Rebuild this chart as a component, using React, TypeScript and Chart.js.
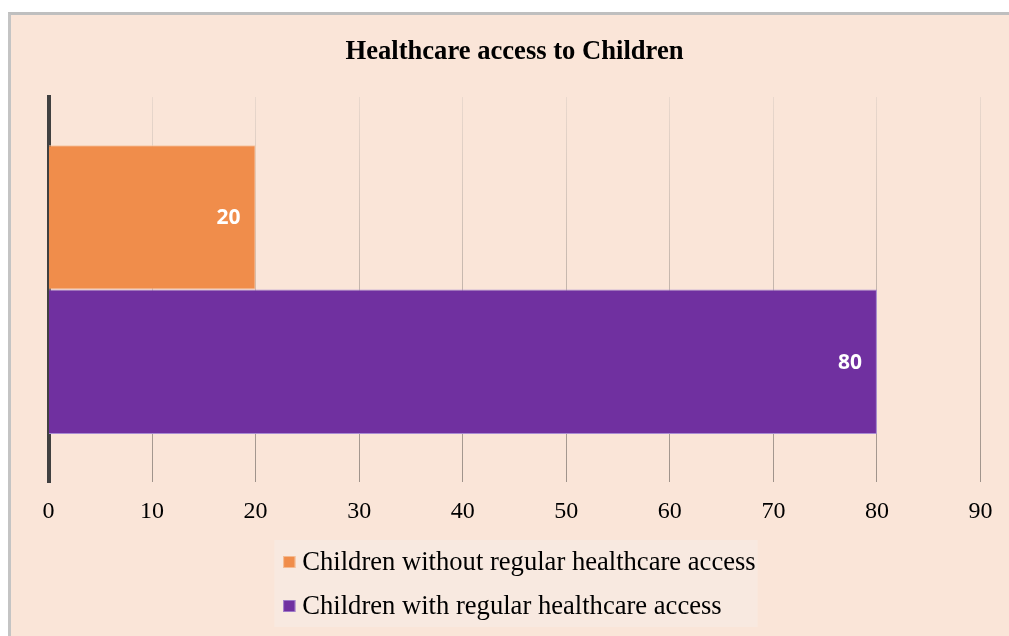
import React, { useEffect, useRef } from "react";
import { Chart, registerables } from "chart.js";

Chart.register(...registerables);

const categories: string[] = [""];
const seriesLabels: string[] = [
  "Children without regular healthcare access",
  "Children with regular healthcare access",
];
const withoutAccess: number[] = [20];
const withAccess: number[] = [80];
const xTicksMax = 90;
const xTickStep = 10;

const SERIF = '"Times New Roman", "Liberation Serif", serif';
const SANS = '"Open Sans", "Noto Sans", sans-serif';

const valueLabelPlugin = {
  id: "valueLabels",
  afterDatasetsDraw(chart: any) {
    const ctx = chart.ctx;
    ctx.save();
    ctx.font = `bold 21px ${SANS}`;
    ctx.fillStyle = "#FFFFFF";
    ctx.textAlign = "right";
    ctx.textBaseline = "middle";
    chart.data.datasets.forEach((ds: any, i: number) => {
      const meta = chart.getDatasetMeta(i);
      meta.data.forEach((el: any, j: number) => {
        ctx.fillText(String(ds.data[j]), el.x - 15, el.y + 1);
      });
    });
    ctx.restore();
  },
};

const legendPlugin = {
  id: "stackedLegend",
  afterDraw(chart: any) {
    const ctx = chart.ctx;
    const area = chart.chartArea;
    ctx.save();
    ctx.font = `26.6px ${SERIF}`;
    const items = chart.data.datasets.map((ds: any) => ({
      text: ds.label,
      color: ds.backgroundColor,
      border: ds.borderColor,
    }));
    let maxW = 0;
    items.forEach((it: any) => {
      maxW = Math.max(maxW, ctx.measureText(it.text).width);
    });
    const padL = 9;
    const box = 12;
    const gap = 7;
    const padR = 2;
    const W = padL + box + gap + maxW + padR;
    const cx = (area.left + area.right) / 2 + 1.5;
    const left = cx - W / 2;
    const top = 525;
    const rowH = 44;
    const H = 87;
    ctx.fillStyle = "#F8E9E0";
    ctx.fillRect(left, top, W, H);
    items.forEach((it: any, i: number) => {
      const cy = top + 22 + i * rowH;
      ctx.fillStyle = it.color;
      ctx.fillRect(left + padL, cy - 6, box, box);
      ctx.strokeStyle = it.border;
      ctx.lineWidth = 0.8;
      ctx.strokeRect(left + padL + 0.4, cy - 5.6, box - 0.8, box - 0.8);
      ctx.fillStyle = "#000000";
      ctx.textAlign = "left";
      ctx.textBaseline = "middle";
      ctx.fillText(it.text, left + padL + box + gap, cy + 1.5);
    });
    ctx.restore();
  },
};

export default function App() {
  const canvasRef = useRef<HTMLCanvasElement | null>(null);

  useEffect(() => {
    document.body.style.overflow = "hidden";
    const canvas = canvasRef.current;
    if (!canvas) return;
    const gridColor = (c: any) => {
      const chart = c.chart;
      const area = chart.chartArea;
      if (!area) return "#BFB3AA";
      const g = chart.ctx.createLinearGradient(0, area.top, 0, area.bottom);
      g.addColorStop(0, "#E9D8CD");
      g.addColorStop(1, "#9E928A");
      return g;
    };
    const chart = new Chart(canvas, {
      type: "bar",
      data: {
        labels: categories,
        datasets: [
          {
            label: seriesLabels[0],
            data: withoutAccess,
            backgroundColor: "#F08D4B",
            borderColor: "#F5C6A3",
            borderWidth: 1,
            categoryPercentage: 0.75,
            barPercentage: 1,
          },
          {
            label: seriesLabels[1],
            data: withAccess,
            backgroundColor: "#7030A0",
            borderColor: "#A98BD3",
            borderWidth: 1,
            categoryPercentage: 0.75,
            barPercentage: 1,
          },
        ],
      },
      options: {
        indexAxis: "y",
        animation: false,
        responsive: false,
        maintainAspectRatio: false,
        devicePixelRatio: 1,
        layout: {
          padding: { left: 37.5, right: 28.5, top: 0, bottom: 95 },
        },
        plugins: {
          legend: { display: false },
          tooltip: { enabled: false },
          title: {
            display: true,
            text: "Healthcare access to Children",
            color: "#000000",
            font: { family: SERIF, size: 26.6, weight: "bold", lineHeight: 1.2 },
            padding: { top: 21, bottom: 29.1 },
          },
        },
        scales: {
          x: {
            type: "linear",
            min: 0,
            max: xTicksMax,
            ticks: {
              stepSize: xTickStep,
              color: "#000000",
              padding: 15,
              font: { family: SERIF, size: 24, lineHeight: 1.2 },
            },
            grid: {
              color: gridColor,
              lineWidth: 1,
              drawTicks: false,
            },
            border: { display: false },
          },
          y: {
            type: "category",
            z: 1,
            ticks: { display: false },
            grid: { display: false, drawTicks: false },
            border: { display: true, color: "#404040", width: 4 },
          },
        },
      } as any,
      plugins: [valueLabelPlugin, legendPlugin],
    });
    return () => {
      chart.destroy();
    };
  }, []);

  return (
    <div
      style={{
        position: "absolute",
        left: 8,
        top: 12,
        width: 1001,
        height: 624,
        boxSizing: "border-box",
        background: "#FAE5D8",
        borderTop: "3px solid #BFBFBF",
        borderLeft: "3px solid #C4C4C4",
        overflow: "hidden",
      }}
    >
      <canvas
        ref={canvasRef}
        width={998}
        height={621}
        style={{ display: "block", width: 998, height: 621 }}
      />
    </div>
  );
}
